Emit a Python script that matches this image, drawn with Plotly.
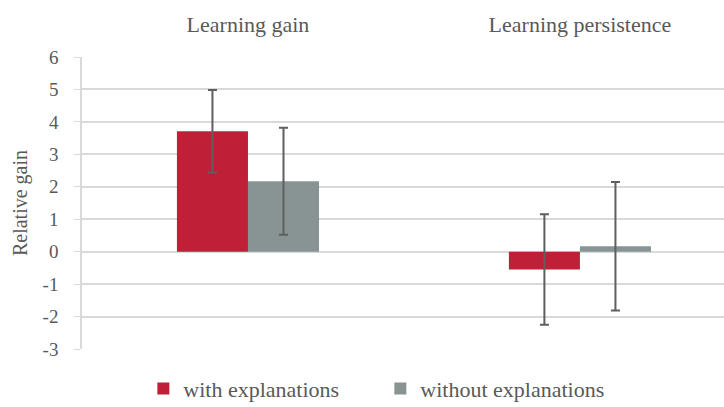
import plotly.graph_objects as go

categories = ["Learning gain", "Learning persistence"]
with_expl = [3.71, -0.55]
with_expl_err = [1.27, 1.70]
without_expl = [2.17, 0.17]
without_expl_err = [1.65, 1.98]
y_ticks = [-3, -2, -1, 0, 1, 2, 3, 4, 5, 6]
y_tick_text = ["-3", "-2", "-1", "0", "1", "2", "3", "4", "5", "6"]

FONT = "'Liberation Serif', 'Times New Roman', serif"
TEXT = "#595959"

fig = go.Figure()
fig.add_trace(go.Bar(
    x=categories, y=with_expl, name="with explanations",
    marker=dict(color="#C01F38", line=dict(width=0)),
    error_y=dict(type="data", array=with_expl_err, color="#5f5f5f", thickness=2, width=4.5),
))
fig.add_trace(go.Bar(
    x=categories, y=without_expl, name="without explanations",
    marker=dict(color="#889494", line=dict(width=0)),
    error_y=dict(type="data", array=without_expl_err, color="#5f5f5f", thickness=2, width=4.5),
))

fig.update_layout(
    width=724, height=407,
    margin=dict(l=82, r=0, t=57, b=58, autoexpand=False),
    paper_bgcolor="white", plot_bgcolor="white",
    barmode="group", bargap=0.572, bargroupgap=0,
    font=dict(family=FONT, color=TEXT, size=18),
    showlegend=True,
    legend=dict(orientation="h", xref="container", yref="container",
                x=0.198, xanchor="left", y=0.045, yanchor="middle",
                font=dict(size=22, family=FONT, color=TEXT),
                entrywidth=192, entrywidthmode="pixels", itemwidth=30,
                tracegroupgap=0, traceorder="normal"),
    xaxis=dict(side="top", range=[-0.5, 1.434], showgrid=False, zeroline=False,
               showline=False, ticks="", ticklabelstandoff=20,
               tickfont=dict(size=22, family=FONT, color=TEXT)),
    yaxis=dict(range=[-3, 6], tickvals=y_ticks, ticktext=y_tick_text,
               showgrid=True, gridcolor="#d9d9d9",
               gridwidth=1.5, zeroline=False, showline=True, linecolor="#d9d9d9",
               linewidth=1.5, ticks="outside", ticklen=6, tickcolor="#d9d9d9",
               ticklabelstandoff=12,
               tickfont=dict(size=19, family=FONT, color=TEXT),
               title=dict(text="Relative gain", font=dict(size=20, family=FONT, color=TEXT),
                          standoff=10)),
)

fig.write_html("out.html")
